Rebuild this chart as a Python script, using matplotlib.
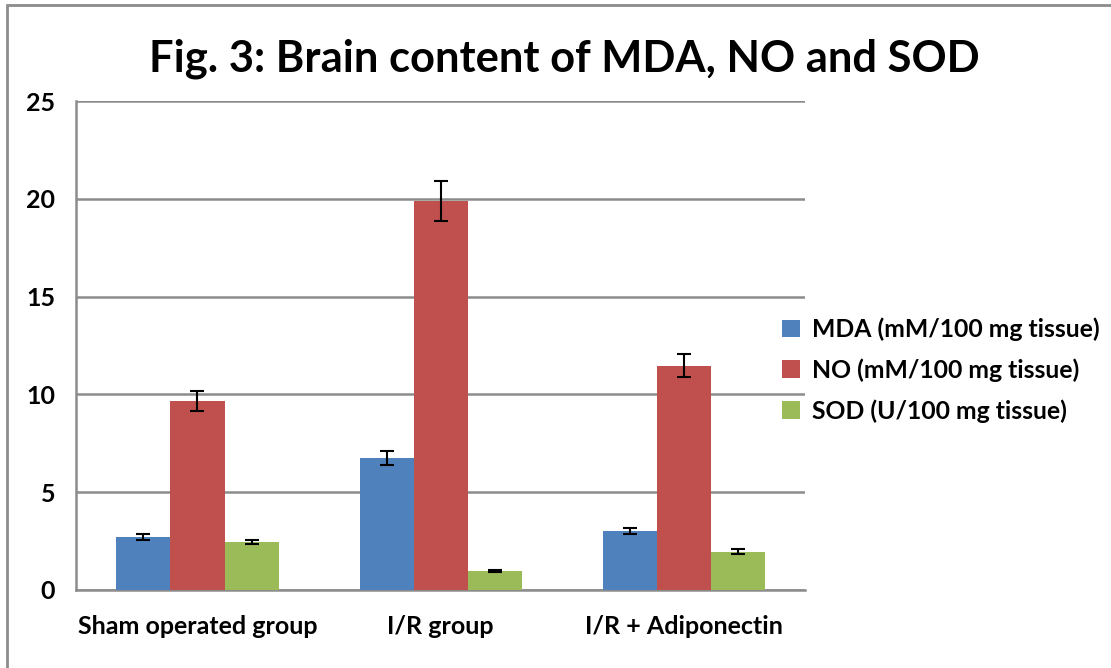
import matplotlib.pyplot as plt
import numpy as np
from matplotlib.patches import Rectangle

groups = ["Sham operated group", "I/R group", "I/R + Adiponectin"]
series = ["MDA (mM/100 mg tissue)", "NO (mM/100 mg tissue)", "SOD (U/100 mg tissue)"]
mda = [2.69, 6.75, 3.02]
mda_err = [0.15, 0.36, 0.17]
no = [9.65, 19.89, 11.47]
no_err = [0.5, 1.0, 0.58]
sod = [2.45, 0.97, 1.96]
sod_err = [0.1, 0.03, 0.12]
yticks = [0, 5, 10, 15, 20, 25]

colors = ["#4F81BD", "#C0504D", "#9BBB59"]

plt.rcParams['font.family'] = ['Lato', 'DejaVu Sans']
plt.rcParams['font.weight'] = 'bold'

fig = plt.figure(figsize=(11.11, 6.68), dpi=100)
ax = fig.add_axes([0.0684, 0.1168, 0.6562, 0.732])

x = np.arange(len(groups))
w = 1 / 4.5
vals = [mda, no, sod]
errs = [mda_err, no_err, sod_err]
for i in range(3):
    ax.bar(x + (i - 1) * w, vals[i], w, color=colors[i], label=series[i], zorder=3,
           yerr=errs[i], error_kw=dict(ecolor='black', elinewidth=1.5, capsize=5, capthick=1.5, zorder=4))

ax.set_xlim(-0.5, 2.5)
ax.set_ylim(0, 25)
ax.set_yticks(yticks)
ax.set_xticks(x)
ax.set_xticklabels(groups, fontsize=18, fontweight='bold')
ax.tick_params(axis='y', labelsize=18, length=0, pad=15)
ax.tick_params(axis='x', length=0, pad=18)
for lab in ax.get_yticklabels():
    lab.set_fontweight('bold')
ax.yaxis.grid(True, color='#8c8c8c', linewidth=1.8, zorder=0)
ax.set_axisbelow(True)
for s in ['top', 'right']:
    ax.spines[s].set_visible(False)
ax.spines['left'].set_color('#8c8c8c')
ax.spines['left'].set_linewidth(1.8)
ax.spines['bottom'].set_color('#8c8c8c')
ax.spines['bottom'].set_linewidth(1.8)

fig.text(0.5076, 0.912, "Fig. 3: Brain content of MDA, NO and SOD", ha='center', va='center',
         fontsize=31.3, fontweight='bold')

leg = ax.legend(loc='center left', bbox_to_anchor=(0.969, 0.45), frameon=False, fontsize=17.8,
                handlelength=0.7, handleheight=0.7, handletextpad=0.5, labelspacing=0.7,
                borderaxespad=0, borderpad=0)
for t in leg.get_texts():
    t.set_fontweight('bold')

fig.patches.append(Rectangle((7 / 1111, -0.1), 1.2, 1.1 - 5 / 668, transform=fig.transFigure,
                             fill=False, edgecolor='#8c8c8c', linewidth=2))

fig.savefig('out.png', dpi=100)
